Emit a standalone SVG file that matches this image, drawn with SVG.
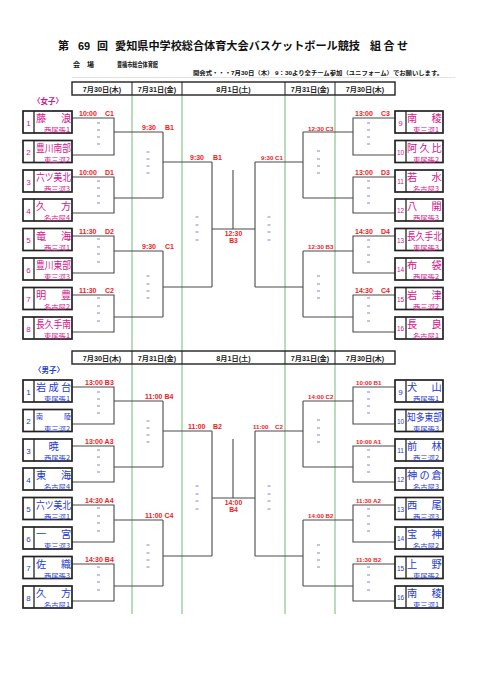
<svg xmlns="http://www.w3.org/2000/svg" width="481" height="680" viewBox="0 0 481 680">
<style>
text{font-family:"Liberation Sans","Noto Sans CJK JP",sans-serif}
.jp{font-family:"Noto Sans CJK JP",sans-serif}
.title{font-size:11px;font-weight:bold;fill:#111}
.sub{font-size:7px;font-weight:bold;fill:#111}
.hd{font-size:7.2px;font-weight:bold;fill:#222;text-anchor:middle}
.hbox{fill:#fff;stroke:#222;stroke-width:1.4}
.hdiv{stroke:#222;stroke-width:1}
.green{stroke:#74b874;stroke-width:1;fill:none}
.box{fill:#fff;stroke:#222;stroke-width:1.7}
.div{stroke:#222;stroke-width:1.3}
.g{fill:#d6138c}
.b{fill:#1f3bd2}
.name{font-size:10.2px}
.num{font-size:8px;text-anchor:middle}
.num2{font-size:6.5px;text-anchor:middle}
.reg{font-size:6px;text-anchor:end}
.br{fill:none;stroke:#4a4a4a;stroke-width:1.1}
.lb{font-size:7px;font-weight:bold;fill:#ee1c1c}
.ls{font-size:6.2px;font-weight:bold;fill:#ee1c1c}
.lc{font-size:6.8px;font-weight:bold;fill:#ee1c1c;text-anchor:middle}
.dash{fill:none;stroke:#7474cf;stroke-width:0.9}
.sec{font-size:7.5px;font-weight:bold}
</style>
<defs>
<path id="dashes" class="dash" d="M97 123h3M97 130h3M97 137h3M97 144h3M97 181h3M97 188h3M97 196h3M97 203h3M97 239h3M97 247h3M97 254h3M97 262h3M97 298h3M97 306h3M97 313h3M97 321h3M367 123h3M367 130h3M367 137h3M367 144h3M367 181h3M367 188h3M367 196h3M367 203h3M367 240h3M367 247h3M367 255h3M367 262h3M367 298h3M367 306h3M367 313h3M367 321h3M146.5 152h3M146.5 159h3M146.5 166h3M146.5 173h3M146.5 276h3M146.5 284h3M146.5 291h3M146.5 298h3M317 151h3M317 159h3M317 166h3M317 173h3M317 276h3M317 284h3M317 291h3M317 298h3M195.5 217h3M195.5 225h3M195.5 232h3M195.5 240h3M267.5 217h3M267.5 225h3M267.5 232h3M267.5 240h3"/>
</defs>
<rect width="481" height="680" fill="#fff"/>

<g id="header">
<text class="title" x="58" y="50">第</text>
<text class="title" x="78" y="50">69</text>
<text class="title" x="97" y="50">回</text>
<text class="title" x="115" y="50" textLength="245" lengthAdjust="spacingAndGlyphs">愛知県中学校総合体育大会バスケットボール競技</text>
<text class="title" x="370" y="50" textLength="38" lengthAdjust="spacing">組合せ</text>
<text class="sub" x="73" y="67">会</text>
<text class="sub" x="87" y="67">場</text>
<text class="sub" x="117" y="67" textLength="41" lengthAdjust="spacingAndGlyphs">豊橋市総合体育館</text>
<text x="193" y="75" style="font-size:5.8px;font-weight:bold;fill:#111" textLength="250" lengthAdjust="spacingAndGlyphs">開会式・・・7月30日（木） 9：30より全チーム参加（ユニフォーム）でお願いします。</text>
<line x1="72" y1="77.5" x2="455" y2="77.5" stroke="#dcdcdc" stroke-width="0.8"/>
</g>

<g id="gridlines">
<path class="green" d="M132 95V614M182 95V614M285 95V614M335 95V614"/>
</g>

<g id="day-header-girls">
<rect class="hbox" x="72" y="82" width="323" height="13"/>
<path class="hdiv" d="M132 82V95M182 82V95M285 82V95M335 82V95"/>
<text class="hd" x="102" y="91.5">7月30日(木)</text>
<text class="hd" x="157" y="91.5">7月31日(金)</text>
<text class="hd" x="233.5" y="91.5">8月1日(土)</text>
<text class="hd" x="310" y="91.5">7月31日(金)</text>
<text class="hd" x="365" y="91.5">7月30日(木)</text>
</g>
<g id="day-header-boys">
<rect class="hbox" x="72" y="351" width="323" height="13"/>
<path class="hdiv" d="M132 351V364M182 351V364M285 351V364M335 351V364"/>
<text class="hd" x="102" y="360.5">7月30日(木)</text>
<text class="hd" x="157" y="360.5">7月31日(金)</text>
<text class="hd" x="233.5" y="360.5">8月1日(土)</text>
<text class="hd" x="310" y="360.5">7月31日(金)</text>
<text class="hd" x="365" y="360.5">7月30日(木)</text>
</g>

<text id="sec-girls" class="sec g" x="33" y="104">〈女子〉</text>
<text id="sec-boys" class="sec b" x="34" y="373">〈男子〉</text>

<g id="connectors">
<path class="br" d="M72 118H114V155H72M114 132H163M72 177H114V213H72M114 198H163M72 236H114V273H72M114 251H163M72 295H114V332H72M114 317H163M163 132V198M163 162H212M163 251V317M163 287H212M212 162V287M212 229H255M233 170V229M255 162V287M255 162H303M255 287H303M303 132V198M303 132H353M303 198H353M303 251V317M303 251H353M303 317H353M395 118H353V155H395M395 177H353V213H395M395 236H353V273H395M395 295H353V332H395"/>
<path class="br" d="M72 387H114V424H72M114 401H163M72 446H114V482H72M114 467H163M72 505H114V542H72M114 520H163M72 564H114V601H72M114 586H163M163 401V467M163 431H212M163 520V586M163 556H212M212 431V556M212 498H255M233 439V498M255 431V556M255 431H303M255 556H303M303 401V467M303 401H353M303 467H353M303 520V586M303 520H353M303 586H353M395 387H353V424H395M395 446H353V482H395M395 505H353V542H395M395 564H353V601H395"/>
<use href="#dashes"/>
<use href="#dashes" transform="translate(0,269)"/>
</g>

<g id="match-labels">
<text class="lb" x="79" y="116">10:00<tspan x="105">C1</tspan></text>
<text class="lb" x="79" y="175">10:00<tspan x="105">D1</tspan></text>
<text class="lb" x="79" y="234">11:30<tspan x="105">D2</tspan></text>
<text class="lb" x="79" y="293">11:30<tspan x="105">C2</tspan></text>
<text class="lb" x="142" y="130">9:30<tspan x="165">B1</tspan></text>
<text class="lb" x="142" y="249">9:30<tspan x="165">C1</tspan></text>
<text class="lb" x="190" y="160">9:30<tspan x="213">B1</tspan></text>
<text class="lc" x="233.5" y="235.5">12:30</text>
<text class="lc" x="233.5" y="242.5">B3</text>
<text class="ls" x="261" y="160">9:30 C1</text>
<text class="ls" x="308" y="131">12:30 C3</text>
<text class="ls" x="308" y="249">12:30 B3</text>
<text class="lb" x="355" y="116">13:00<tspan x="381">C3</tspan></text>
<text class="lb" x="355" y="175">13:00<tspan x="381">D3</tspan></text>
<text class="lb" x="355" y="234">14:30<tspan x="381">D4</tspan></text>
<text class="lb" x="355" y="293">14:30<tspan x="381">C4</tspan></text>

<text class="lb" x="85" y="385">13:00 B3</text>
<text class="lb" x="85" y="444">13:00 A3</text>
<text class="lb" x="85" y="503">14:30 A4</text>
<text class="lb" x="85" y="562">14:30 B4</text>
<text class="lb" x="145" y="399">11:00 B4</text>
<text class="lb" x="145" y="518">11:00 C4</text>
<text class="lb" x="188" y="429">11:00<tspan x="213">B2</tspan></text>
<text class="lc" x="233.5" y="504.5">14:00</text>
<text class="lc" x="233.5" y="511.5">B4</text>
<text class="ls" x="253" y="429">11:00<tspan x="275">C2</tspan></text>
<text class="ls" x="308" y="399">14:00 C2</text>
<text class="ls" x="308" y="518">14:00 B2</text>
<text class="ls" x="356" y="385">10:00 B1</text>
<text class="ls" x="356" y="444">10:00 A1</text>
<text class="ls" x="356" y="503">11:30 A2</text>
<text class="ls" x="356" y="562">11:30 B2</text>
</g>

<!-- girls left -->
<g id="g1" class="g"><rect class="box" x="23" y="111" width="49" height="22"/><line class="div" x1="34" y1="111" x2="34" y2="133"/><text class="num" x="28.5" y="125.5">1</text><text class="name jp" x="36 61" y="122">藤浪</text><text class="reg jp" x="70" y="132" textLength="26" lengthAdjust="spacingAndGlyphs">西尾張1</text></g>
<g id="g2" class="g"><rect class="box" x="23" y="140.5" width="49" height="22"/><line class="div" x1="34" y1="140.5" x2="34" y2="162.5"/><text class="num" x="28.5" y="155">2</text><text class="name jp" x="36" y="151.5" textLength="35" lengthAdjust="spacingAndGlyphs">豊川南部</text><text class="reg jp" x="70" y="161.5" textLength="26" lengthAdjust="spacingAndGlyphs">東三河2</text></g>
<g id="g3" class="g"><rect class="box" x="23" y="170" width="49" height="22"/><line class="div" x1="34" y1="170" x2="34" y2="192"/><text class="num" x="28.5" y="184.5">3</text><text class="name jp" x="36" y="181" textLength="35" lengthAdjust="spacingAndGlyphs">六ツ美北</text><text class="reg jp" x="70" y="191" textLength="26" lengthAdjust="spacingAndGlyphs">西三河3</text></g>
<g id="g4" class="g"><rect class="box" x="23" y="199" width="49" height="22"/><line class="div" x1="34" y1="199" x2="34" y2="221"/><text class="num" x="28.5" y="213.5">4</text><text class="name jp" x="36 61" y="210">久方</text><text class="reg jp" x="70" y="220" textLength="26" lengthAdjust="spacingAndGlyphs">名古屋4</text></g>
<g id="g5" class="g"><rect class="box" x="23" y="228.5" width="49" height="22"/><line class="div" x1="34" y1="228.5" x2="34" y2="250.5"/><text class="num" x="28.5" y="243">5</text><text class="name jp" x="36 61" y="239.5">竜海</text><text class="reg jp" x="70" y="249.5" textLength="26" lengthAdjust="spacingAndGlyphs">西三河1</text></g>
<g id="g6" class="g"><rect class="box" x="23" y="258" width="49" height="22"/><line class="div" x1="34" y1="258" x2="34" y2="280"/><text class="num" x="28.5" y="272.5">6</text><text class="name jp" x="36" y="269" textLength="35" lengthAdjust="spacingAndGlyphs">豊川東部</text><text class="reg jp" x="70" y="279" textLength="26" lengthAdjust="spacingAndGlyphs">東三河3</text></g>
<g id="g7" class="g"><rect class="box" x="23" y="287.5" width="49" height="22"/><line class="div" x1="34" y1="287.5" x2="34" y2="309.5"/><text class="num" x="28.5" y="302">7</text><text class="name jp" x="36 61" y="298.5">明豊</text><text class="reg jp" x="70" y="308.5" textLength="26" lengthAdjust="spacingAndGlyphs">名古屋2</text></g>
<g id="g8" class="g"><rect class="box" x="23" y="317" width="49" height="22"/><line class="div" x1="34" y1="317" x2="34" y2="339"/><text class="num" x="28.5" y="331.5">8</text><text class="name jp" x="36" y="328" textLength="35" lengthAdjust="spacingAndGlyphs">長久手南</text><text class="reg jp" x="70" y="338" textLength="26" lengthAdjust="spacingAndGlyphs">東尾張1</text></g>
<!-- girls right -->
<g id="g9" class="g"><rect class="box" x="395" y="111" width="48" height="22"/><line class="div" x1="406" y1="111" x2="406" y2="133"/><text class="num" x="400.5" y="125.5">9</text><text class="name jp" x="407 431.5" y="122">南稜</text><text class="reg jp" x="439" y="132" textLength="26" lengthAdjust="spacingAndGlyphs">東三河1</text></g>
<g id="g10" class="g"><rect class="box" x="395" y="140.5" width="48" height="22"/><line class="div" x1="406" y1="140.5" x2="406" y2="162.5"/><text class="num2" x="400.5" y="154.5">10</text><text class="name jp" x="407 419.5 431.5" y="151.5">阿久比</text><text class="reg jp" x="439" y="161.5" textLength="26" lengthAdjust="spacingAndGlyphs">東尾張2</text></g>
<g id="g11" class="g"><rect class="box" x="395" y="170" width="48" height="22"/><line class="div" x1="406" y1="170" x2="406" y2="192"/><text class="num2" x="400.5" y="184">11</text><text class="name jp" x="407 431.5" y="181">若水</text><text class="reg jp" x="439" y="191" textLength="26" lengthAdjust="spacingAndGlyphs">名古屋3</text></g>
<g id="g12" class="g"><rect class="box" x="395" y="199" width="48" height="22"/><line class="div" x1="406" y1="199" x2="406" y2="221"/><text class="num2" x="400.5" y="213">12</text><text class="name jp" x="407 431.5" y="210">八開</text><text class="reg jp" x="439" y="220" textLength="26" lengthAdjust="spacingAndGlyphs">西尾張3</text></g>
<g id="g13" class="g"><rect class="box" x="395" y="228.5" width="48" height="22"/><line class="div" x1="406" y1="228.5" x2="406" y2="250.5"/><text class="num2" x="400.5" y="242.5">13</text><text class="name jp" x="407" y="239.5" textLength="35" lengthAdjust="spacingAndGlyphs">長久手北</text><text class="reg jp" x="439" y="249.5" textLength="26" lengthAdjust="spacingAndGlyphs">東尾張3</text></g>
<g id="g14" class="g"><rect class="box" x="395" y="258" width="48" height="22"/><line class="div" x1="406" y1="258" x2="406" y2="280"/><text class="num2" x="400.5" y="272">14</text><text class="name jp" x="407 431.5" y="269">布袋</text><text class="reg jp" x="439" y="279" textLength="26" lengthAdjust="spacingAndGlyphs">西尾張2</text></g>
<g id="g15" class="g"><rect class="box" x="395" y="287.5" width="48" height="22"/><line class="div" x1="406" y1="287.5" x2="406" y2="309.5"/><text class="num2" x="400.5" y="301.5">15</text><text class="name jp" x="407 431.5" y="298.5">岩津</text><text class="reg jp" x="439" y="308.5" textLength="26" lengthAdjust="spacingAndGlyphs">西三河2</text></g>
<g id="g16" class="g"><rect class="box" x="395" y="317" width="48" height="22"/><line class="div" x1="406" y1="317" x2="406" y2="339"/><text class="num2" x="400.5" y="331">16</text><text class="name jp" x="407 431.5" y="328">長良</text><text class="reg jp" x="439" y="338" textLength="26" lengthAdjust="spacingAndGlyphs">名古屋1</text></g>

<!-- boys left -->
<g id="b1" class="b"><rect class="box" x="23" y="380" width="49" height="22"/><line class="div" x1="34" y1="380" x2="34" y2="402"/><text class="num" x="28.5" y="394.5">1</text><text class="name jp" x="36 48.5 61" y="391">岩成台</text><text class="reg jp" x="70" y="401" textLength="26" lengthAdjust="spacingAndGlyphs">東尾張1</text></g>
<g id="b2" class="b"><rect class="box" x="23" y="409.5" width="49" height="22"/><line class="div" x1="34" y1="409.5" x2="34" y2="431.5"/><text class="num" x="28.5" y="424">2</text><text class="jp" style="font-size:7px" x="36 64" y="419">南陵</text><text class="reg jp" x="70" y="430.5" textLength="26" lengthAdjust="spacingAndGlyphs">東三河2</text></g>
<g id="b3" class="b"><rect class="box" x="23" y="439" width="49" height="22"/><line class="div" x1="34" y1="439" x2="34" y2="461"/><text class="num" x="28.5" y="453.5">3</text><text class="name jp" x="48.5" y="450">暁</text><text class="reg jp" x="70" y="460" textLength="26" lengthAdjust="spacingAndGlyphs">西尾張2</text></g>
<g id="b4" class="b"><rect class="box" x="23" y="468" width="49" height="22"/><line class="div" x1="34" y1="468" x2="34" y2="490"/><text class="num" x="28.5" y="482.5">4</text><text class="name jp" x="36 61" y="479">東海</text><text class="reg jp" x="70" y="489" textLength="26" lengthAdjust="spacingAndGlyphs">名古屋4</text></g>
<g id="b5" class="b"><rect class="box" x="23" y="497.5" width="49" height="22"/><line class="div" x1="34" y1="497.5" x2="34" y2="519.5"/><text class="num" x="28.5" y="512">5</text><text class="name jp" x="36" y="508.5" textLength="35" lengthAdjust="spacingAndGlyphs">六ツ美北</text><text class="reg jp" x="70" y="518.5" textLength="26" lengthAdjust="spacingAndGlyphs">西三河1</text></g>
<g id="b6" class="b"><rect class="box" x="23" y="527" width="49" height="22"/><line class="div" x1="34" y1="527" x2="34" y2="549"/><text class="num" x="28.5" y="541.5">6</text><text class="name jp" x="36 61" y="538">一宮</text><text class="reg jp" x="70" y="548" textLength="26" lengthAdjust="spacingAndGlyphs">東三河3</text></g>
<g id="b7" class="b"><rect class="box" x="23" y="556.5" width="49" height="22"/><line class="div" x1="34" y1="556.5" x2="34" y2="578.5"/><text class="num" x="28.5" y="571">7</text><text class="name jp" x="36 61" y="567.5">佐織</text><text class="reg jp" x="70" y="577.5" textLength="26" lengthAdjust="spacingAndGlyphs">西尾張3</text></g>
<g id="b8" class="b"><rect class="box" x="23" y="586" width="49" height="22"/><line class="div" x1="34" y1="586" x2="34" y2="608"/><text class="num" x="28.5" y="600.5">8</text><text class="name jp" x="36 61" y="597">久方</text><text class="reg jp" x="70" y="607" textLength="26" lengthAdjust="spacingAndGlyphs">名古屋1</text></g>
<!-- boys right -->
<g id="b9" class="b"><rect class="box" x="395" y="380" width="48" height="22"/><line class="div" x1="406" y1="380" x2="406" y2="402"/><text class="num" x="400.5" y="394.5">9</text><text class="name jp" x="407 431.5" y="391">犬山</text><text class="reg jp" x="439" y="401" textLength="26" lengthAdjust="spacingAndGlyphs">西尾張1</text></g>
<g id="b10" class="b"><rect class="box" x="395" y="409.5" width="48" height="22"/><line class="div" x1="406" y1="409.5" x2="406" y2="431.5"/><text class="num2" x="400.5" y="423.5">10</text><text class="name jp" x="407" y="420.5" textLength="35" lengthAdjust="spacingAndGlyphs">知多東部</text><text class="reg jp" x="439" y="430.5" textLength="26" lengthAdjust="spacingAndGlyphs">東尾張3</text></g>
<g id="b11" class="b"><rect class="box" x="395" y="439" width="48" height="22"/><line class="div" x1="406" y1="439" x2="406" y2="461"/><text class="num2" x="400.5" y="453">11</text><text class="name jp" x="407 431.5" y="450">前林</text><text class="reg jp" x="439" y="460" textLength="26" lengthAdjust="spacingAndGlyphs">西三河2</text></g>
<g id="b12" class="b"><rect class="box" x="395" y="468" width="48" height="22"/><line class="div" x1="406" y1="468" x2="406" y2="490"/><text class="num2" x="400.5" y="482">12</text><text class="name jp" x="407 419.5 431.5" y="479">神の倉</text><text class="reg jp" x="439" y="489" textLength="26" lengthAdjust="spacingAndGlyphs">名古屋3</text></g>
<g id="b13" class="b"><rect class="box" x="395" y="497.5" width="48" height="22"/><line class="div" x1="406" y1="497.5" x2="406" y2="519.5"/><text class="num2" x="400.5" y="511.5">13</text><text class="name jp" x="407 431.5" y="508.5">西尾</text><text class="reg jp" x="439" y="518.5" textLength="26" lengthAdjust="spacingAndGlyphs">西三河3</text></g>
<g id="b14" class="b"><rect class="box" x="395" y="527" width="48" height="22"/><line class="div" x1="406" y1="527" x2="406" y2="549"/><text class="num2" x="400.5" y="541">14</text><text class="name jp" x="407 431.5" y="538">宝神</text><text class="reg jp" x="439" y="548" textLength="26" lengthAdjust="spacingAndGlyphs">名古屋2</text></g>
<g id="b15" class="b"><rect class="box" x="395" y="556.5" width="48" height="22"/><line class="div" x1="406" y1="556.5" x2="406" y2="578.5"/><text class="num2" x="400.5" y="570.5">15</text><text class="name jp" x="407 431.5" y="567.5">上野</text><text class="reg jp" x="439" y="577.5" textLength="26" lengthAdjust="spacingAndGlyphs">東尾張2</text></g>
<g id="b16" class="b"><rect class="box" x="395" y="586" width="48" height="22"/><line class="div" x1="406" y1="586" x2="406" y2="608"/><text class="num2" x="400.5" y="600">16</text><text class="name jp" x="407 431.5" y="597">南稜</text><text class="reg jp" x="439" y="607" textLength="26" lengthAdjust="spacingAndGlyphs">東三河1</text></g>
</svg>
